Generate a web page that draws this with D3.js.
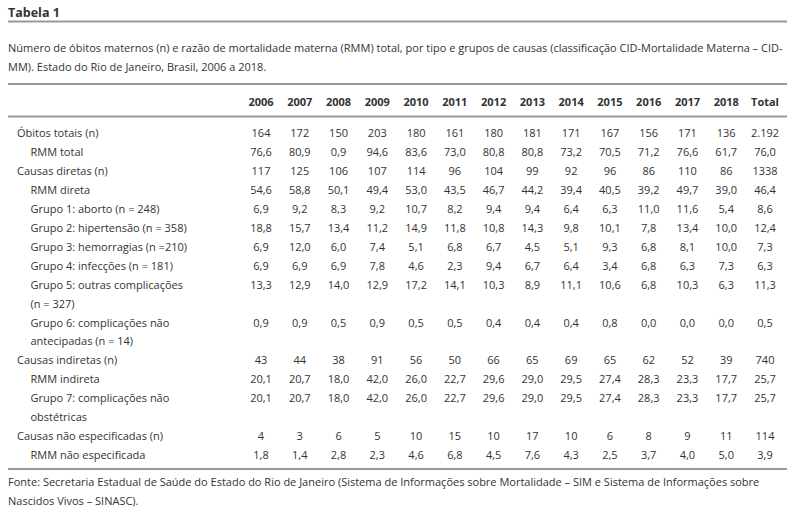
<!DOCTYPE html>
<html>
<head>
<meta charset="utf-8">
<script src="https://cdn.jsdelivr.net/npm/d3@7"></script>
<style>
  html, body { margin: 0; padding: 0; background: #fff; }
  svg { display: block; font-family: "Open Sans", sans-serif; }
</style>
</head>
<body>
<svg id="chart" width="800" height="513"></svg>
<script>
// ---- data ----
const title = "Tabela 1";
const captionLines = [
  "Número de óbitos maternos (n) e razão de mortalidade materna (RMM) total, por tipo e grupos de causas (classificação CID-Mortalidade Materna – CID-",
  "MM). Estado do Rio de Janeiro, Brasil, 2006 a 2018."
];
const columns = ["2006","2007","2008","2009","2010","2011","2012","2013","2014","2015","2016","2017","2018","Total"];

const rowLabels = [
  ["Óbitos totais (n)"],
  ["RMM total"],
  ["Causas diretas (n)"],
  ["RMM direta"],
  ["Grupo 1: aborto (n = 248)"],
  ["Grupo 2: hipertensão (n = 358)"],
  ["Grupo 3: hemorragias (n =210)"],
  ["Grupo 4: infecções (n = 181)"],
  ["Grupo 5: outras complicações", "(n = 327)"],
  ["Grupo 6: complicações não", "antecipadas (n = 14)"],
  ["Causas indiretas (n)"],
  ["RMM indireta"],
  ["Grupo 7: complicações não", "obstétricas"],
  ["Causas não especificadas (n)"],
  ["RMM não especificada"]
];
const rowIndent = [0,1,0,1,1,1,1,1,1,1,0,1,1,0,1];

const obitosTotais   = ["164","172","150","203","180","161","180","181","171","167","156","171","136","2.192"];
const rmmTotal       = ["76,6","80,9","0,9","94,6","83,6","73,0","80,8","80,8","73,2","70,5","71,2","76,6","61,7","76,0"];
const causasDiretas  = ["117","125","106","107","114","96","104","99","92","96","86","110","86","1338"];
const rmmDireta      = ["54,6","58,8","50,1","49,4","53,0","43,5","46,7","44,2","39,4","40,5","39,2","49,7","39,0","46,4"];
const grupo1         = ["6,9","9,2","8,3","9,2","10,7","8,2","9,4","9,4","6,4","6,3","11,0","11,6","5,4","8,6"];
const grupo2         = ["18,8","15,7","13,4","11,2","14,9","11,8","10,8","14,3","9,8","10,1","7,8","13,4","10,0","12,4"];
const grupo3         = ["6,9","12,0","6,0","7,4","5,1","6,8","6,7","4,5","5,1","9,3","6,8","8,1","10,0","7,3"];
const grupo4         = ["6,9","6,9","6,9","7,8","4,6","2,3","9,4","6,7","6,4","3,4","6,8","6,3","7,3","6,3"];
const grupo5         = ["13,3","12,9","14,0","12,9","17,2","14,1","10,3","8,9","11,1","10,6","6,8","10,3","6,3","11,3"];
const grupo6         = ["0,9","0,9","0,5","0,9","0,5","0,5","0,4","0,4","0,4","0,8","0,0","0,0","0,0","0,5"];
const causasIndiretas= ["43","44","38","91","56","50","66","65","69","65","62","52","39","740"];
const rmmIndireta    = ["20,1","20,7","18,0","42,0","26,0","22,7","29,6","29,0","29,5","27,4","28,3","23,3","17,7","25,7"];
const grupo7         = ["20,1","20,7","18,0","42,0","26,0","22,7","29,6","29,0","29,5","27,4","28,3","23,3","17,7","25,7"];
const causasNaoEsp   = ["4","3","6","5","10","15","10","17","10","6","8","9","11","114"];
const rmmNaoEsp      = ["1,8","1,4","2,8","2,3","4,6","6,8","4,5","7,6","4,3","2,5","3,7","4,0","5,0","3,9"];

const rowValues = [obitosTotais, rmmTotal, causasDiretas, rmmDireta, grupo1, grupo2, grupo3, grupo4,
  grupo5, grupo6, causasIndiretas, rmmIndireta, grupo7, causasNaoEsp, rmmNaoEsp];

const footLines = [
  "Fonte: Secretaria Estadual de Saúde do Estado do Rio de Janeiro (Sistema de Informações sobre Mortalidade – SIM e Sistema de Informações sobre",
  "Nascidos Vivos – SINASC)."
];

// ---- layout ----
const svg = d3.select("#chart");
const textColor = "#333";
const ruleColor = "#999";
const left = 8, right = 787;
const fs = 11;
const lineH = 18.95;

const x = d3.scalePoint().domain(columns).range([261, 765]);

// build line list
const lines = [];
rowLabels.forEach((lab, i) => {
  lab.forEach((t, j) => lines.push({ text: t, indent: rowIndent[i], values: j === 0 ? rowValues[i] : null }));
});
const y = d3.scaleLinear().domain([0, lines.length - 1]).range([137, 137 + (lines.length - 1) * lineH]);

// title
svg.append("text").attr("x", left).attr("y", 17)
  .attr("font-size", 12.5).attr("font-weight", 700).attr("fill", textColor).text(title);

function rule(yy) {
  svg.append("line").attr("x1", left).attr("x2", right).attr("y1", yy).attr("y2", yy)
    .attr("stroke", ruleColor).attr("stroke-width", 2);
}
rule(21.5);
rule(84);
rule(116.5);
rule(469);

// caption
svg.append("g").selectAll("text").data(captionLines).join("text")
  .attr("x", left).attr("y", (d, i) => 51.5 + i * 19.5)
  .attr("font-size", fs).attr("fill", textColor).text(d => d);

// header
svg.append("g").selectAll("text").data(columns).join("text")
  .attr("x", d => x(d)).attr("y", 105.5).attr("text-anchor", "middle")
  .attr("font-size", fs).attr("font-weight", 700).attr("fill", textColor).text(d => d);

// body
const g = svg.append("g");
const rowsSel = g.selectAll("g.row").data(lines).join("g").attr("class", "row")
  .attr("transform", (d, i) => `translate(0,${y(i)})`);
rowsSel.append("text").attr("x", d => 17 + d.indent * 13.5)
  .attr("font-size", fs).attr("fill", textColor).text(d => d.text);
rowsSel.filter(d => d.values).selectAll("text.v")
  .data(d => d.values.map((v, k) => ({ v, col: columns[k] })))
  .join("text").attr("class", "v")
  .attr("x", d => x(d.col)).attr("text-anchor", "middle")
  .attr("font-size", fs).attr("fill", textColor).text(d => d.v);

// footnote
svg.append("g").selectAll("text").data(footLines).join("text")
  .attr("x", left).attr("y", (d, i) => 485.5 + i * 19)
  .attr("font-size", fs).attr("fill", textColor).text(d => d);
</script>
</body>
</html>
